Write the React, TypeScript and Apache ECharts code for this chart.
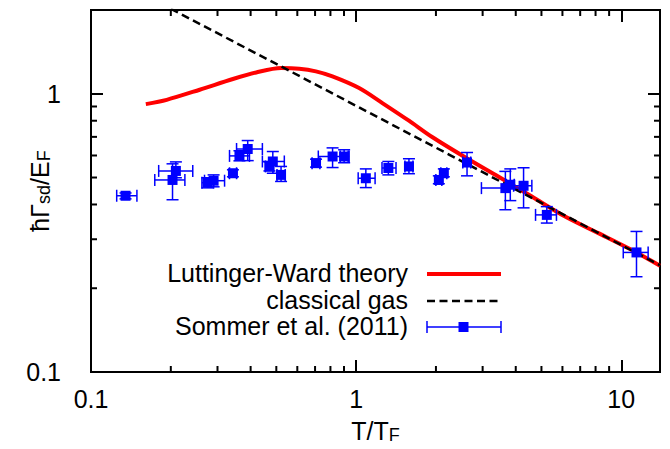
import React, { useEffect, useRef } from 'react';
import * as echarts from 'echarts';

const xRange = [0.1, 14];
const yRange = [0.1, 2];
const xMinorTicks = [0.2, 0.3, 0.4, 0.5, 0.6, 0.7, 0.8, 0.9, 2, 3, 4, 5, 6, 7, 8, 9];
const yMinorTicks = [0.2, 0.3, 0.4, 0.5, 0.6, 0.7, 0.8, 0.9];

// Luttinger-Ward theory
const lwT = [0.161, 0.193, 0.257, 0.343, 0.42, 0.521, 0.61, 0.705, 0.814, 1.026, 1.256, 1.582, 1.935, 2.585, 3.448, 4.6, 6.14, 8.2, 10.93, 14];
const lwGamma = [0.918, 0.951, 1.034, 1.13, 1.193, 1.237, 1.23, 1.203, 1.154, 1.048, 0.926, 0.8, 0.699, 0.59, 0.503, 0.427, 0.362, 0.3155, 0.2748, 0.241];

// classical gas
const cgT = [0.2, 0.5, 1, 2, 5, 10, 14];
const cgGamma = [2.02, 1.28, 0.905, 0.64, 0.405, 0.286, 0.242];

// Sommer et al. (2011): T, Gamma, T low, T high, Gamma low, Gamma high
const expT = [0.135, 0.203, 0.209, 0.275, 0.29, 0.343, 0.363, 0.39, 0.485, 0.471, 0.521, 0.706, 0.815, 0.901, 1.088, 1.323, 1.582, 2.051, 2.142, 2.62, 3.655, 3.815, 4.281, 5.239, 11.415];
const expG = [0.43, 0.49, 0.528, 0.479, 0.487, 0.518, 0.598, 0.633, 0.571, 0.548, 0.511, 0.563, 0.595, 0.595, 0.497, 0.541, 0.548, 0.49, 0.518, 0.566, 0.458, 0.471, 0.467, 0.367, 0.269];
const expTlo = [0.125, 0.174, 0.18, 0.262, 0.268, 0.333, 0.333, 0.354, 0.443, 0.455, 0.503, 0.682, 0.72, 0.871, 1.018, 1.252, 1.528, 1.999, 2.087, 2.525, 2.969, 3.686, 3.926, 4.75, 10.175];
const expThi = [0.149, 0.226, 0.242, 0.29, 0.319, 0.354, 0.396, 0.443, 0.536, 0.488, 0.54, 0.73, 0.941, 0.933, 1.179, 1.414, 1.638, 2.105, 2.198, 2.706, 4.356, 3.95, 4.6, 5.696, 12.63];
const expGlo = [0.419, 0.416, 0.499, 0.459, 0.463, 0.503, 0.574, 0.575, 0.518, 0.528, 0.484, 0.545, 0.543, 0.565, 0.46, 0.511, 0.516, 0.475, 0.503, 0.507, 0.383, 0.413, 0.389, 0.343, 0.22];
const expGhi = [0.44, 0.56, 0.569, 0.499, 0.511, 0.533, 0.624, 0.679, 0.62, 0.569, 0.548, 0.582, 0.639, 0.629, 0.537, 0.571, 0.584, 0.507, 0.537, 0.615, 0.526, 0.537, 0.542, 0.393, 0.32];

const seriesNames = ['Luttinger-Ward theory', 'classical gas', 'Sommer et al. (2011)'];

const FONT = 'Liberation Sans, Arial, sans-serif';
const BLUE = '#0000ff';
const FS = 25;
const SUB = 18;

export default function App() {
  const ref = useRef<HTMLDivElement>(null);
  useEffect(() => {
    if (!ref.current) return;
    const chart = echarts.init(ref.current, undefined, { renderer: 'svg' });
    const isDecade = (v: number) => Math.abs(Math.log10(v) - Math.round(Math.log10(v))) < 1e-6;
    const tickStyle = { show: true, inside: true, length: 12, lineStyle: { color: '#000', width: 2 } };
    const expData = expT.map((t, i) => [t, expG[i], expTlo[i], expThi[i], expGlo[i], expGhi[i]]);
    const rich = {
      n: { fontSize: FS, fontFamily: FONT, color: '#000' },
      s: { fontSize: SUB, fontFamily: FONT, color: '#000', padding: [8, 0, 0, 0] },
    };

    const option: any = {
      animation: false,
      backgroundColor: '#fff',
      textStyle: { fontFamily: FONT },
      grid: {
        left: 91, right: 10, top: 10, bottom: 77, show: true, borderColor: '#000', borderWidth: 2,
        backgroundColor: 'transparent', containLabel: false, outerBoundsMode: 'none',
      },
      xAxis: [
        {
          type: 'log', logBase: 10, min: xRange[0], max: xRange[1],
          axisLine: { show: false }, splitLine: { show: false },
          axisTick: tickStyle,
          axisLabel: { fontSize: FS, color: '#000', fontFamily: FONT, margin: 14, showMaxLabel: false, formatter: (v: number) => (isDecade(v) ? String(v) : '') },
          name: '{n|T/T}{s|F}', nameLocation: 'middle', nameGap: 46, nameMoveOverlap: false,
          nameTextStyle: { rich },
        },
        {
          type: 'log', logBase: 10, min: xRange[0], max: xRange[1], position: 'top',
          axisLine: { show: false }, splitLine: { show: false }, axisTick: tickStyle, axisLabel: { show: false },
        },
      ],
      yAxis: [
        {
          type: 'log', logBase: 10, min: yRange[0], max: yRange[1],
          axisLine: { show: false }, splitLine: { show: false },
          axisTick: tickStyle,
          axisLabel: { fontSize: FS, color: '#000', fontFamily: FONT, margin: 30, showMaxLabel: false, formatter: (v: number) => (isDecade(v) ? String(v) : '') },
          name: '{n|ħΓ}{s|sd}{n|/E}{s|F}', nameLocation: 'middle', nameGap: 38, nameRotate: 90, nameMoveOverlap: false,
          nameTextStyle: { rich },
        },
        {
          type: 'log', logBase: 10, min: yRange[0], max: yRange[1], position: 'right',
          axisLine: { show: false }, splitLine: { show: false }, axisTick: tickStyle, axisLabel: { show: false },
        },
      ],
      series: [
        {
          type: 'custom', name: 'xminor', silent: true, z: 1,
          data: xMinorTicks.map((v) => [v, 1]),
          renderItem: (params: any, api: any) => {
            const p = api.coord([api.value(0), 1]);
            const cs = params.coordSys;
            const st = { stroke: '#000', lineWidth: 2 };
            return {
              type: 'group', children: [
                { type: 'line', shape: { x1: p[0], y1: cs.y + cs.height, x2: p[0], y2: cs.y + cs.height - 6 }, style: st },
                { type: 'line', shape: { x1: p[0], y1: cs.y, x2: p[0], y2: cs.y + 6 }, style: st },
              ],
            };
          },
        },
        {
          type: 'custom', name: 'yminor', silent: true, z: 1,
          data: yMinorTicks.map((v) => [1, v]),
          renderItem: (params: any, api: any) => {
            const p = api.coord([1, api.value(1)]);
            const cs = params.coordSys;
            const st = { stroke: '#000', lineWidth: 2 };
            return {
              type: 'group', children: [
                { type: 'line', shape: { x1: cs.x, y1: p[1], x2: cs.x + 6, y2: p[1] }, style: st },
                { type: 'line', shape: { x1: cs.x + cs.width, y1: p[1], x2: cs.x + cs.width - 6, y2: p[1] }, style: st },
              ],
            };
          },
        },
        {
          type: 'line', name: seriesNames[0], z: 2,
          data: lwT.map((t, i) => [t, lwGamma[i]]),
          smooth: 0.3, showSymbol: false, symbol: 'none',
          lineStyle: { color: '#ff0000', width: 4 },
        },
        {
          type: 'line', name: seriesNames[1], z: 3,
          data: cgT.map((t, i) => [t, cgGamma[i]]),
          showSymbol: false, symbol: 'none',
          lineStyle: { color: '#000', width: 2.5, type: [8, 4.5] },
        },
        {
          type: 'custom', name: seriesNames[2], z: 4,
          data: expData,
          encode: { x: 0, y: 1 },
          renderItem: (params: any, api: any) => {
            const x = api.value(0), y = api.value(1);
            const c = api.coord([x, y]);
            const l = api.coord([api.value(2), y]);
            const r = api.coord([api.value(3), y]);
            const b = api.coord([x, api.value(4)]);
            const t = api.coord([x, api.value(5)]);
            const cap = 6, s = 5;
            const st = { stroke: BLUE, lineWidth: 1.5, fill: 'none' };
            return {
              type: 'group', children: [
                { type: 'line', shape: { x1: l[0], y1: c[1], x2: r[0], y2: c[1] }, style: st },
                { type: 'line', shape: { x1: l[0], y1: c[1] - cap, x2: l[0], y2: c[1] + cap }, style: st },
                { type: 'line', shape: { x1: r[0], y1: c[1] - cap, x2: r[0], y2: c[1] + cap }, style: st },
                { type: 'line', shape: { x1: c[0], y1: b[1], x2: c[0], y2: t[1] }, style: st },
                { type: 'line', shape: { x1: c[0] - cap, y1: b[1], x2: c[0] + cap, y2: b[1] }, style: st },
                { type: 'line', shape: { x1: c[0] - cap, y1: t[1], x2: c[0] + cap, y2: t[1] }, style: st },
                { type: 'rect', shape: { x: c[0] - s, y: c[1] - s, width: 2 * s, height: 2 * s }, style: { fill: BLUE } },
              ],
            };
          },
        },
      ],
      graphic: [
        { type: 'text', right: 670 - 408, top: 274 - 14, style: { text: seriesNames[0], fontSize: FS, fontFamily: FONT, fill: '#000', textAlign: 'right' } },
        { type: 'text', right: 670 - 408, top: 301 - 14, style: { text: seriesNames[1], fontSize: FS, fontFamily: FONT, fill: '#000', textAlign: 'right' } },
        { type: 'text', right: 670 - 408, top: 327 - 14, style: { text: seriesNames[2], fontSize: FS, fontFamily: FONT, fill: '#000', textAlign: 'right' } },
        { type: 'line', shape: { x1: 427, y1: 274, x2: 501, y2: 274 }, style: { stroke: '#ff0000', lineWidth: 4 } },
        { type: 'line', shape: { x1: 427, y1: 301, x2: 501, y2: 301 }, style: { stroke: '#000', lineWidth: 2.5, lineDash: [8, 4.5] } },
        { type: 'line', shape: { x1: 427, y1: 327, x2: 501, y2: 327 }, style: { stroke: BLUE, lineWidth: 1.5 } },
        { type: 'line', shape: { x1: 427, y1: 321, x2: 427, y2: 333 }, style: { stroke: BLUE, lineWidth: 1.5 } },
        { type: 'line', shape: { x1: 501, y1: 321, x2: 501, y2: 333 }, style: { stroke: BLUE, lineWidth: 1.5 } },
        { type: 'rect', shape: { x: 458.5, y: 322, width: 10, height: 10 }, style: { fill: BLUE } },
      ],
    };
    chart.setOption(option);
    return () => chart.dispose();
  }, []);
  return <div ref={ref} style={{ position: 'fixed', left: 0, top: 0, width: 670, height: 449, background: '#fff' }} />;
}
